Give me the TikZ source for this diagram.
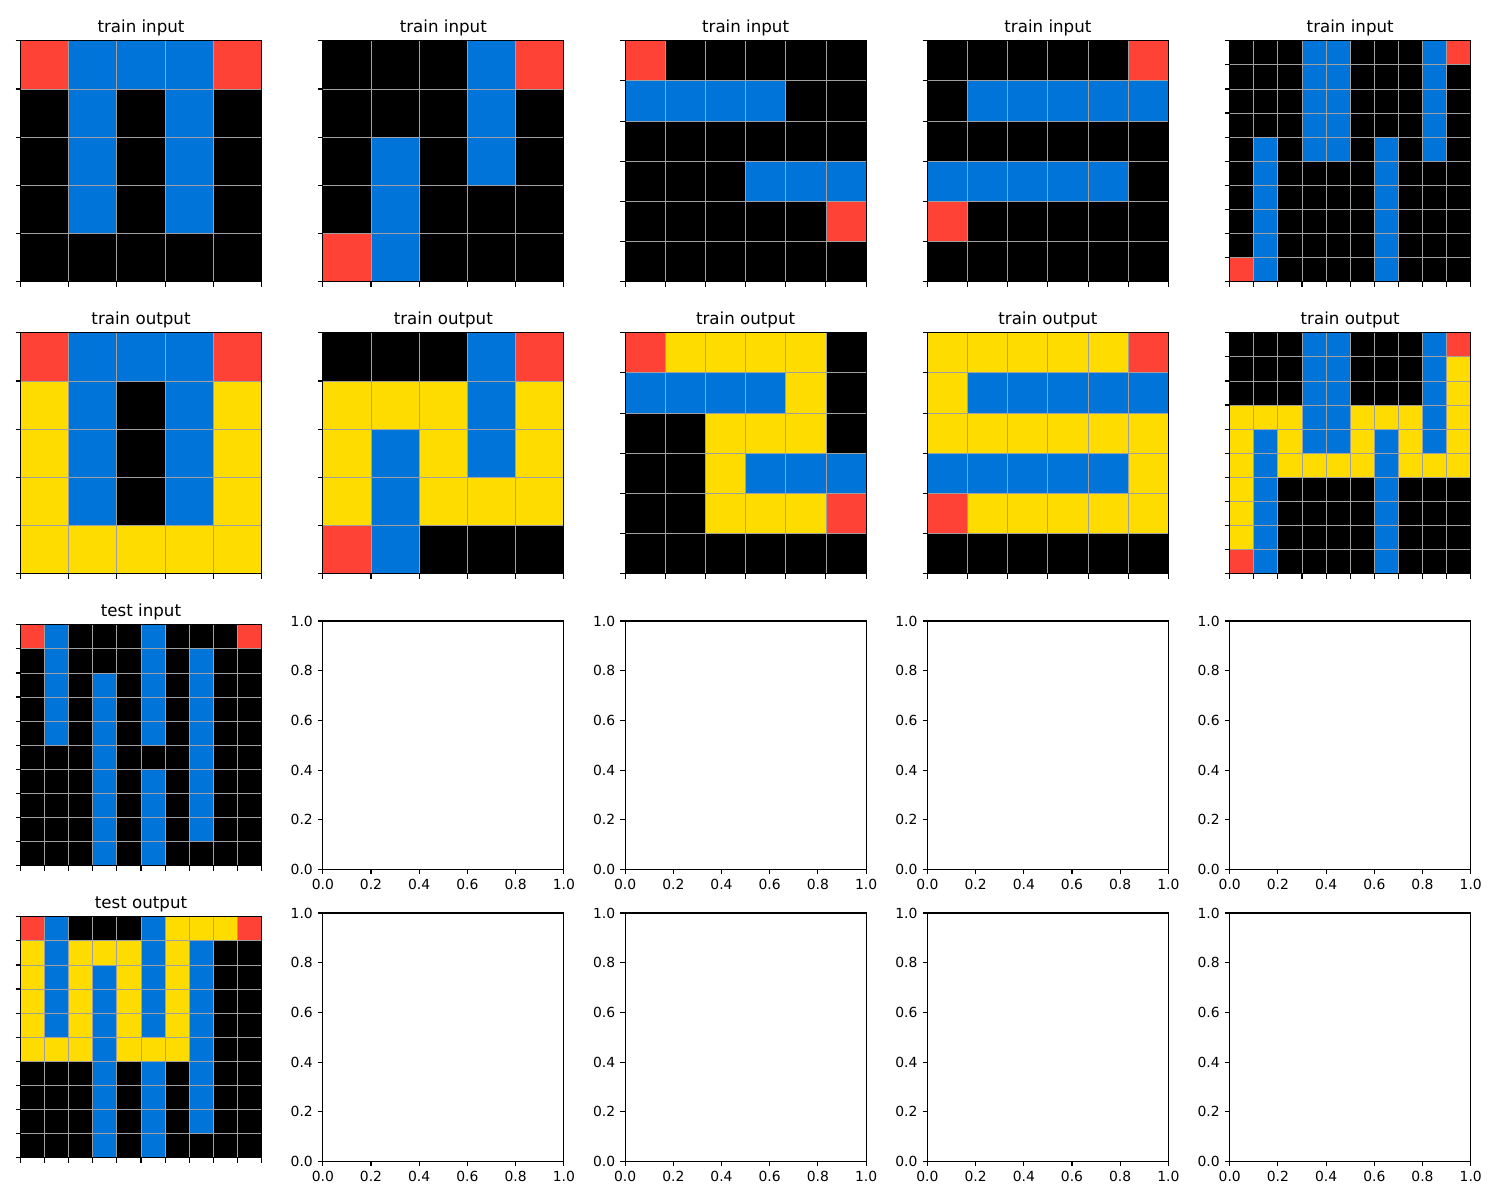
\documentclass[tikz,border=0pt]{standalone}
\usepackage{fontspec}
\setmainfont{DejaVu Sans}
\definecolor{cK}{HTML}{000000}
\definecolor{cB}{HTML}{0074D9}
\definecolor{cR}{HTML}{FF4136}
\definecolor{cY}{HTML}{FFDC00}
\definecolor{gridc}{HTML}{A0A0A0}
\tikzset{
  spine/.style={draw=black,line width=0.8pt},
  tickline/.style={draw=black,line width=0.8pt},
  gridline/.style={draw=gridc,line width=0.6pt},
  ttl/.style={font=\fontsize{12}{14}\selectfont,inner sep=0pt,anchor=base},
  ticklab/.style={font=\fontsize{10}{12}\selectfont,inner sep=0pt},
}
\newcommand\arcpanel[5]{%
  \pgfmathsetmacro\PL{20.5+302.3*#1}%
  \pgfmathsetmacro\PT{40.75+292*#2}%
  \pgfmathsetmacro\PC{241/#3}%
  \pgfmathtruncatemacro\PN{#3-1}%
  \foreach \rowdata [count=\i from 0] in {#5} {
    \foreach \c [count=\j from 0] in \rowdata {
      \fill[c\c] (\PL+\j*\PC,\PT+\i*\PC) rectangle ++(\PC,\PC);
    }
  }
  \foreach \k in {1,...,\PN} {
    \draw[gridline] (\PL+\k*\PC,\PT) -- ++(0,241);
    \draw[gridline] (\PL,\PT+\k*\PC) -- ++(241,0);
  }
  \foreach \k in {0,...,#3} {
    \draw[tickline] (\PL-4.86,\PT+\k*\PC) -- ++(4.86,0);
    \draw[tickline] (\PL+\k*\PC,\PT+241) -- ++(0,4.86);
  }
  \draw[spine] (\PL,\PT) rectangle ++(241,241);
  \node[ttl] (t-#1-#2) at (\PL+120.5,\PT-8.33) {#4};
}
\newcommand\emptyax[2]{%
  \pgfmathsetmacro\PL{20.5+302.3*#1}%
  \pgfmathsetmacro\PT{37+292*#2}%
  \foreach \v [count=\k from 0] in {0.0,0.2,0.4,0.6,0.8,1.0} {
    \draw[tickline] (\PL-4.86,\PT+248.5-\k*49.7) -- ++(4.86,0);
    \node[ticklab,anchor=east] at (\PL-9.7,\PT+248.5-\k*49.7) {\v};
    \draw[tickline] (\PL+\k*48.2,\PT+248.5) -- ++(0,4.86);
    \node[ticklab,anchor=north] at (\PL+\k*48.2,\PT+248.5+9.7) {\v};
  }
  \draw[spine] (\PL,\PT) rectangle ++(241,248.5);
}
\begin{document}
\begin{tikzpicture}[x=0.72pt,y=-0.72pt]
\fill[white] (0,0) rectangle (1500,1200);
\useasboundingbox (0,0) rectangle (1500,1200);
% row 0: train inputs
\arcpanel{0}{0}{5}{train input}{{R,B,B,B,R},{K,B,K,B,K},{K,B,K,B,K},{K,B,K,B,K},{K,K,K,K,K}}
\arcpanel{1}{0}{5}{train input}{{K,K,K,B,R},{K,K,K,B,K},{K,B,K,B,K},{K,B,K,K,K},{R,B,K,K,K}}
\arcpanel{2}{0}{6}{train input}{{R,K,K,K,K,K},{B,B,B,B,K,K},{K,K,K,K,K,K},{K,K,K,B,B,B},{K,K,K,K,K,R},{K,K,K,K,K,K}}
\arcpanel{3}{0}{6}{train input}{{K,K,K,K,K,R},{K,B,B,B,B,B},{K,K,K,K,K,K},{B,B,B,B,B,K},{R,K,K,K,K,K},{K,K,K,K,K,K}}
\arcpanel{4}{0}{10}{train input}{{K,K,K,B,B,K,K,K,B,R},{K,K,K,B,B,K,K,K,B,K},{K,K,K,B,B,K,K,K,B,K},{K,K,K,B,B,K,K,K,B,K},{K,B,K,B,B,K,B,K,B,K},{K,B,K,K,K,K,B,K,K,K},{K,B,K,K,K,K,B,K,K,K},{K,B,K,K,K,K,B,K,K,K},{K,B,K,K,K,K,B,K,K,K},{R,B,K,K,K,K,B,K,K,K}}
% row 1: train outputs
\arcpanel{0}{1}{5}{train output}{{R,B,B,B,R},{Y,B,K,B,Y},{Y,B,K,B,Y},{Y,B,K,B,Y},{Y,Y,Y,Y,Y}}
\arcpanel{1}{1}{5}{train output}{{K,K,K,B,R},{Y,Y,Y,B,Y},{Y,B,Y,B,Y},{Y,B,Y,Y,Y},{R,B,K,K,K}}
\arcpanel{2}{1}{6}{train output}{{R,Y,Y,Y,Y,K},{B,B,B,B,Y,K},{K,K,Y,Y,Y,K},{K,K,Y,B,B,B},{K,K,Y,Y,Y,R},{K,K,K,K,K,K}}
\arcpanel{3}{1}{6}{train output}{{Y,Y,Y,Y,Y,R},{Y,B,B,B,B,B},{Y,Y,Y,Y,Y,Y},{B,B,B,B,B,Y},{R,Y,Y,Y,Y,Y},{K,K,K,K,K,K}}
\arcpanel{4}{1}{10}{train output}{{K,K,K,B,B,K,K,K,B,R},{K,K,K,B,B,K,K,K,B,Y},{K,K,K,B,B,K,K,K,B,Y},{Y,Y,Y,B,B,Y,Y,Y,B,Y},{Y,B,Y,B,B,Y,B,Y,B,Y},{Y,B,Y,Y,Y,Y,B,Y,Y,Y},{Y,B,K,K,K,K,B,K,K,K},{Y,B,K,K,K,K,B,K,K,K},{Y,B,K,K,K,K,B,K,K,K},{R,B,K,K,K,K,B,K,K,K}}
% row 2: test input
\arcpanel{0}{2}{10}{test input}{{R,B,K,K,K,B,K,K,K,R},{K,B,K,K,K,B,K,B,K,K},{K,B,K,B,K,B,K,B,K,K},{K,B,K,B,K,B,K,B,K,K},{K,B,K,B,K,B,K,B,K,K},{K,K,K,B,K,K,K,B,K,K},{K,K,K,B,K,B,K,B,K,K},{K,K,K,B,K,B,K,B,K,K},{K,K,K,B,K,B,K,B,K,K},{K,K,K,B,K,B,K,K,K,K}}
% row 3: test output
\arcpanel{0}{3}{10}{test output}{{R,B,K,K,K,B,Y,Y,Y,R},{Y,B,Y,Y,Y,B,Y,B,K,K},{Y,B,Y,B,Y,B,Y,B,K,K},{Y,B,Y,B,Y,B,Y,B,K,K},{Y,B,Y,B,Y,B,Y,B,K,K},{Y,Y,Y,B,Y,Y,Y,B,K,K},{K,K,K,B,K,B,K,B,K,K},{K,K,K,B,K,B,K,B,K,K},{K,K,K,B,K,B,K,B,K,K},{K,K,K,B,K,B,K,K,K,K}}
% empty axes
\foreach \cc in {1,2,3,4} {
  \emptyax{\cc}{2}
  \emptyax{\cc}{3}
}
\end{tikzpicture}
\end{document}
